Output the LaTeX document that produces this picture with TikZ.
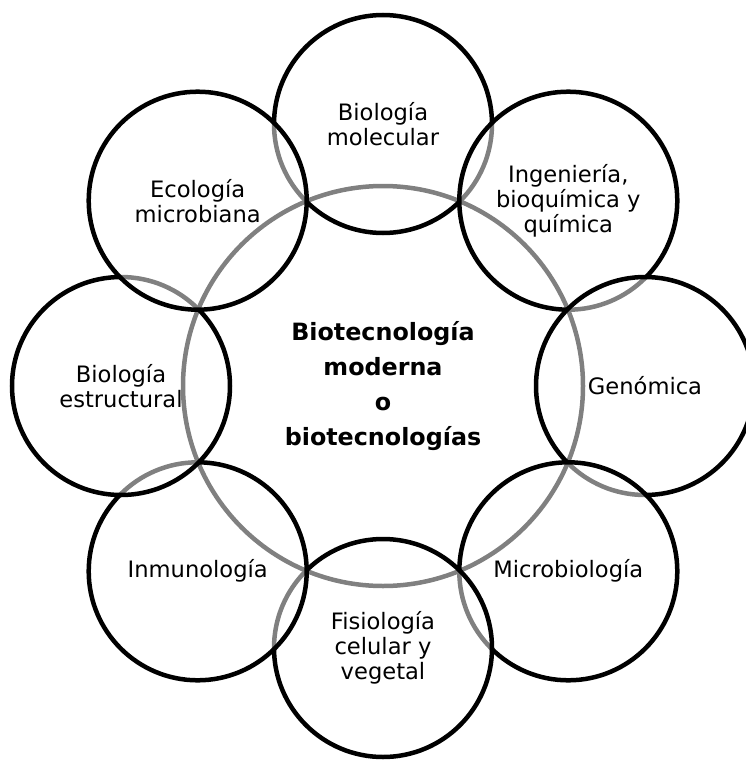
\documentclass[tikz,border=0pt]{standalone}
\usepackage{fontspec}
\setmainfont{DejaVu Sans}
\begin{document}
\begin{tikzpicture}[x=1pt,y=-1pt,
  outer/.style={circle, draw=black, line width=4.5pt, fill=white, fill opacity=0.5,
    text opacity=1, minimum size=218pt, inner sep=0pt, align=center,
    font=\fontsize{22.6}{25}\selectfont},
  hub/.style={circle, draw=black, line width=4.5pt, minimum size=400pt, inner sep=0pt,
    align=center, font=\fontsize{23.8}{35.3}\selectfont\bfseries}]
\useasboundingbox (0,0) rectangle (745,760);
\node[hub] (hub) at (383,386) {Biotecnología\\moderna\\o\\biotecnologías};
\node[outer] (mol) at (383,124) {Biología\\molecular};
\node[outer] (ing) at (568.3,200.7) {Ingeniería,\\bioquímica y\\química};
\node[outer] (gen) at (645,386) {Genómica};
\node[outer] (mic) at (568.3,571.3) {Microbiología};
\node[outer] (fis) at (383,648) {Fisiología\\celular y\\vegetal};
\node[outer] (inm) at (197.7,571.3) {Inmunología};
\node[outer] (est) at (121,386) {Biología\\estructural};
\node[outer] (eco) at (197.7,200.7) {Ecología\\microbiana};
\end{tikzpicture}
\end{document}
